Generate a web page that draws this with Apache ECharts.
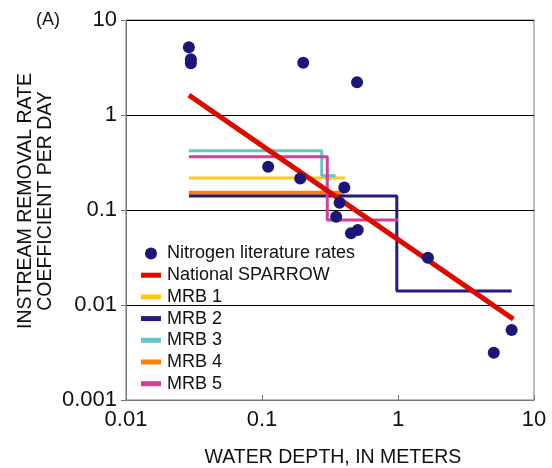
<!DOCTYPE html>
<html>
<head>
<meta charset="utf-8">
<script src="https://cdn.jsdelivr.net/npm/echarts@6/dist/echarts.min.js"></script>
<style>
  html, body { margin: 0; padding: 0; background: #fff; }
  #chart { width: 552px; height: 468px; }
</style>
</head>
<body>
<div id="chart"></div>
<script>
// nitrogen literature rates (depth m, rate per day)
const dotX = [0.029, 0.030, 0.030, 0.201, 0.50, 0.111, 0.191, 0.403, 0.372, 0.351, 0.451, 0.506, 1.66, 6.85, 5.06]
const dotY = [5.16, 3.86, 3.5, 3.55, 2.21, 0.286, 0.215, 0.173, 0.119, 0.085, 0.0568, 0.0616, 0.0315, 0.00546, 0.00315]

// national SPARROW fit
const sparrowX = [0.029, 7.05]
const sparrowY = [1.62, 0.0071]

// regional models (step corners)
const mrb1X = [0.029, 0.407]
const mrb1Y = [0.217, 0.217]
const mrb2X = [0.029, 0.98, 0.98, 6.85]
const mrb2Y = [0.140, 0.140, 0.014, 0.014]
const mrb3X = [0.029, 0.275, 0.275, 0.348]
const mrb3Y = [0.42, 0.42, 0.23, 0.23]
const mrb4X = [0.029, 0.40]
const mrb4Y = [0.152, 0.152]
const mrb5X = [0.029, 0.302, 0.302, 1.0]
const mrb5Y = [0.364, 0.364, 0.0785, 0.0785]

const xTicks = [0.01, 0.1, 1, 10]
const yTicks = [0.001, 0.01, 0.1, 1, 10]

const zip = (xs, ys) => xs.map((x, i) => [x, ys[i]])
const font = 'Liberation Sans'
const rectIcon = 'path://M0,0H20V5H0Z'

const lineSeries = (name, xs, ys, color, width) => ({
  name: name,
  type: 'line',
  data: zip(xs, ys),
  color: color,
  lineStyle: { color: color, width: width },
  symbol: 'none',
  z: 2
})

const chart = echarts.init(document.getElementById('chart'))

chart.setOption({
  animation: false,
  textStyle: { fontFamily: font },
  grid: {
    left: 126, right: 18, top: 20, bottom: 68,
    outerBoundsMode: 'none',
    containLabel: false,
    show: true, borderColor: '#777', borderWidth: 1
  },
  legend: {
    orient: 'vertical',
    left: 136,
    top: 239.5,
    itemWidth: 20,
    itemHeight: 12,
    itemGap: 3.7,
    textStyle: { fontSize: 18, lineHeight: 18, color: '#111', fontFamily: font, padding: [0, 0, 0, 1] },
    data: [
      { name: 'Nitrogen literature rates', icon: 'circle' },
      { name: 'National SPARROW', icon: rectIcon },
      { name: 'MRB 1', icon: rectIcon },
      { name: 'MRB 2', icon: rectIcon },
      { name: 'MRB 3', icon: rectIcon },
      { name: 'MRB 4', icon: rectIcon },
      { name: 'MRB 5', icon: rectIcon }
    ]
  },
  graphic: [
    {
      type: 'text', x: 36, y: 20.5,
      style: { text: '(A)', fontSize: 18, fontFamily: font, fill: '#111', verticalAlign: 'middle' }
    },
    {
      type: 'text', x: 35.5, y: 201, rotation: Math.PI / 2,
      style: {
        text: 'INSTREAM REMOVAL RATE\nCOEFFICIENT PER DAY',
        fontSize: 19.5, lineHeight: 20, fontFamily: font, fill: '#111',
        align: 'center', verticalAlign: 'middle'
      }
    }
  ],
  xAxis: {
    type: 'log',
    logBase: 10,
    min: xTicks[0],
    max: xTicks[xTicks.length - 1],
    name: 'WATER DEPTH, IN METERS',
    nameLocation: 'middle',
    nameGap: 48,
    nameTextStyle: { fontSize: 19.5, color: '#111', fontFamily: font, padding: [0, 0, 0, 6] },
    axisLine: { lineStyle: { color: '#777' } },
    axisTick: { inside: true, length: 5, lineStyle: { color: '#777' } },
    minorTick: { show: false },
    splitLine: { show: false },
    axisLabel: { fontSize: 22, color: '#111', margin: 9, fontFamily: font }
  },
  yAxis: {
    type: 'log',
    logBase: 10,
    min: yTicks[0],
    max: yTicks[yTicks.length - 1],
    axisLine: { show: true, lineStyle: { color: '#777' } },
    axisTick: { show: true, length: 5, lineStyle: { color: '#777' } },
    minorTick: { show: false },
    splitLine: { show: true, lineStyle: { color: '#000', width: 1 } },
    axisLabel: { fontSize: 22, color: '#111', margin: 9, fontFamily: font }
  },
  series: [
    lineSeries('MRB 1', mrb1X, mrb1Y, '#ffc815', 3),
    lineSeries('MRB 4', mrb4X, mrb4Y, '#ff7f00', 4),
    lineSeries('MRB 2', mrb2X, mrb2Y, '#221b82', 3),
    lineSeries('MRB 3', mrb3X, mrb3Y, '#66c4c8', 3),
    lineSeries('MRB 5', mrb5X, mrb5Y, '#d43c9e', 3),
    Object.assign(lineSeries('National SPARROW', sparrowX, sparrowY, '#dd0a00', 5), { z: 3 }),
    {
      name: 'Nitrogen literature rates',
      type: 'scatter',
      data: zip(dotX, dotY),
      symbolSize: 12,
      itemStyle: { color: '#1b1677', opacity: 1 },
      z: 4
    }
  ]
})
</script>
</body>
</html>
